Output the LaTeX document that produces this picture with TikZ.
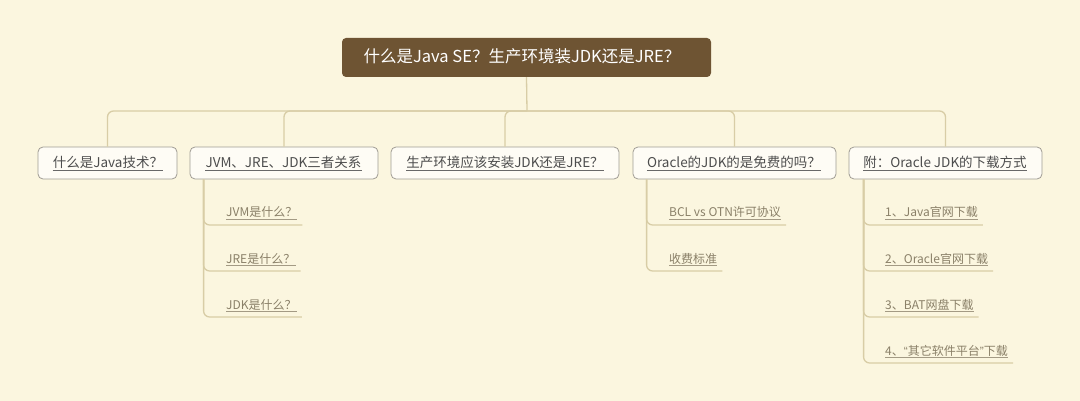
\documentclass[tikz,border=0pt]{standalone}
\usepackage{fontspec}
\setmainfont{Noto Sans CJK SC}
\newfontfamily\latq{Liberation Sans}
\usetikzlibrary{calc}
\definecolor{bg}{HTML}{FBF6DF}
\definecolor{rootfill}{HTML}{6E5433}
\definecolor{conn}{HTML}{D8CDA6}
\definecolor{boxline}{HTML}{A09C94}
\definecolor{ltext}{HTML}{4D4D4D}
\definecolor{ctext}{HTML}{8A8068}
\definecolor{culine}{HTML}{A39A84}
\tikzset{
  rootbox/.style={fill=rootfill,draw=none,rounded corners=4pt,minimum width=369pt,minimum height=39pt,inner sep=0},
  roottext/.style={text=white,font=\fontsize{16.5pt}{18pt}\selectfont,inner sep=0,anchor=base},
  lbox/.style={fill=white!70!bg,draw=boxline,line width=0.8pt,rounded corners=5pt,minimum height=32pt,inner sep=0},
  ltextst/.style={text=ltext,font=\fontsize{13.5pt}{16pt}\selectfont,inner sep=0,text depth=2.5pt,anchor=base},
  ctextst/.style={text=ctext,font=\fontsize{12pt}{14pt}\selectfont,inner sep=0,text depth=2pt,anchor=base west},
  conn/.style={draw=conn,line width=1.3pt,rounded corners=6pt},
  luline/.style={draw=ltext!85,line width=0.7pt},
  culine/.style={draw=culine,line width=0.7pt},
}
\begin{document}
\begin{tikzpicture}[x=1pt,y=1pt]
\fill[bg] (0,0) rectangle (1080,-401);
\useasboundingbox (0,0) rectangle (1080,-401);

% root
\node[rootbox] (root) at (526.5,-57.5) {};
\node[roottext] (rt) at (522,-63) {什么是Java SE？生产环境装JDK还是JRE？};
\coordinate (hub) at (527,-111);

% level 1 boxes
\node[lbox,minimum width=139pt] (b1) at (107.5,-163) {};
\node[lbox,minimum width=188pt] (b2) at (284,-163) {};
\node[lbox,minimum width=228pt] (b3) at (505,-163) {};
\node[lbox,minimum width=203pt] (b4) at (734.5,-163) {};
\node[lbox,minimum width=193pt] (b5) at (945.5,-163) {};

\node[ltextst] (t1) at (108,-168) {什么是Java技术？};
\node[ltextst] (t2) at (283.5,-168) {JVM、JRE、JDK三者关系};
\node[ltextst] (t3) at (505,-168) {生产环境应该安装JDK还是JRE？};
\node[ltextst] (t4) at (734,-168) {Oracle的JDK的是免费的吗？};
\node[ltextst] (t5) at (945,-168) {附：Oracle JDK的下载方式};
\foreach \t in {t1,t2,t3,t4,t5}{\draw[luline] (\t.south west) -- (\t.south east);}

% root connectors
\draw[conn] (root.south) -- (hub);
\foreach \b in {b1,b2,b3,b4,b5}{\draw[conn] (hub) -| (\b.north);}

% children of b2
\node[ctextst] (c21) at (226,-217) {JVM是什么？};
\node[ctextst] (c22) at (226,-263) {JRE是什么？};
\node[ctextst] (c23) at (226,-309) {JDK是什么？};
% children of b4
\node[ctextst] (c41) at (669,-217) {BCL vs OTN许可协议};
\node[ctextst] (c42) at (669,-263) {收费标准};
% children of b5
\node[ctextst] (c51) at (885,-217) {1、Java官网下载};
\node[ctextst] (c52) at (885,-263) {2、Oracle官网下载};
\node[ctextst] (c53) at (885,-309) {3、BAT网盘下载};
\node[ctextst] (c54) at (885,-355) {4、{\latq “}其它软件平台{\latq ”}下载};

\foreach \c in {c21,c22,c23,c41,c42,c51,c52,c53,c54}{\draw[culine] (\c.south west) -- (\c.south east);}

\foreach \c in {c21,c22,c23}{\draw[conn] ($(b2.south west)+(14,0)$) |- ($(\c.base east)+(5,-8)$);}
\foreach \c in {c41,c42}{\draw[conn] ($(b4.south west)+(14,0)$) |- ($(\c.base east)+(5,-8)$);}
\foreach \c in {c51,c52,c53,c54}{\draw[conn] ($(b5.south west)+(15,0)$) |- ($(\c.base east)+(5,-8)$);}
\end{tikzpicture}
\end{document}
